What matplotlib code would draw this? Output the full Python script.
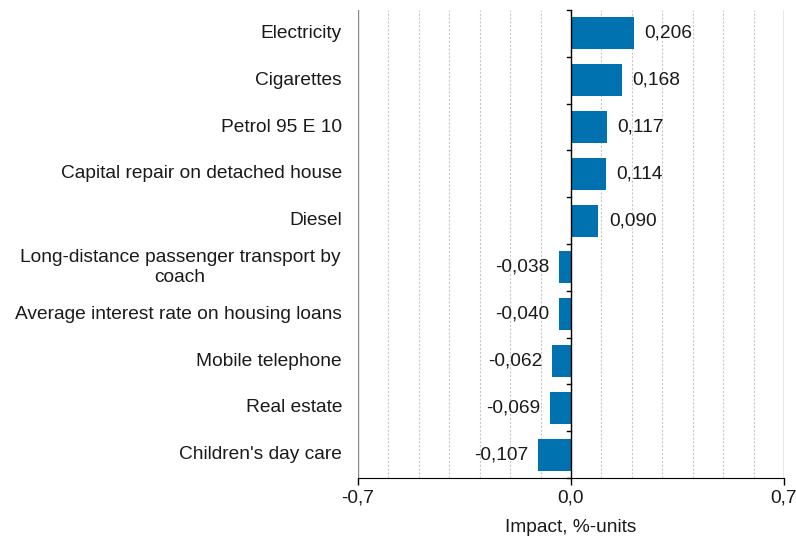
import matplotlib.pyplot as plt
import matplotlib.transforms as mtransforms
import numpy as np

plt.rcParams['font.family'] = ['Liberation Sans', 'DejaVu Sans']

categories = ['Electricity', 'Cigarettes', 'Petrol 95 E 10',
              'Capital repair on detached house', 'Diesel',
              'Long-distance passenger transport by\ncoach',
              'Average interest rate on housing loans',
              'Mobile telephone', 'Real estate', "Children's day care"]
values = [0.206, 0.168, 0.117, 0.114, 0.090, -0.038, -0.040, -0.062, -0.069, -0.107]
labels = ['0,206', '0,168', '0,117', '0,114', '0,090',
          '-0,038', '-0,040', '-0,062', '-0,069', '-0,107']

FS = 13.8
TXT = '#1a1a1a'

fig = plt.figure(figsize=(7.96, 5.45), dpi=100)
ax = fig.add_axes([358/796, 1 - 478/545, (784-358)/796, (478-10)/545])

y = np.arange(len(categories))
ax.barh(y, values, height=0.68, color='#0072b0', zorder=3)
ax.set_ylim(len(categories) - 0.5, -0.5)
ax.set_xlim(-0.7, 0.7)

# grid lines
for g in np.arange(-6, 7) / 10:
    if abs(g) < 1e-9:
        continue
    ax.axvline(g, color='#c8c8c8', lw=0.8, ls=(0, (2, 1.5)), zorder=1)
ax.axvline(-0.7, color='#888888', lw=1.0, zorder=1)
ax.axvline(0.7, color='#888888', lw=1.0, zorder=1)

for sp in ['top', 'right', 'left']:
    ax.spines[sp].set_visible(False)
ax.spines['bottom'].set_color('black')
ax.axvline(0, color='black', lw=1.0, zorder=4)

# category ticks on the zero line at boundaries
for b in np.arange(-0.5, len(categories) - 0.4, 1.0):
    ax.plot([-0.012, 0], [b, b], color='black', lw=1.0, zorder=4, clip_on=False)

# category labels (figure x, data y)
ax.set_yticks([])
trans = mtransforms.blended_transform_factory(fig.transFigure, ax.transData)
for i, c in enumerate(categories):
    if '\n' in c:
        ax.text(180/796, i, c, ha='center', va='center', fontsize=FS,
                color=TXT, linespacing=1.25, transform=trans)
    else:
        ax.text(342/796, i, c, ha='right', va='center', fontsize=FS,
                color=TXT, transform=trans)

ax.set_xticks([-0.7, 0, 0.7])
ax.set_xticklabels(['-0,7', '0,0', '0,7'], fontsize=FS, color=TXT)
ax.tick_params(axis='x', length=5, width=1.0, pad=3)
ax.set_xlabel('Impact, %-units', fontsize=FS, color=TXT, labelpad=9)

for i, (v, l) in enumerate(zip(values, labels)):
    if v >= 0:
        ax.annotate(l, xy=(v, i), xytext=(7.5, 0), textcoords='offset points',
                    ha='left', va='center', fontsize=FS, color=TXT)
    else:
        ax.annotate(l, xy=(v, i), xytext=(-7, 0), textcoords='offset points',
                    ha='right', va='center', fontsize=FS, color=TXT)

fig.savefig('out.png', dpi=100)
